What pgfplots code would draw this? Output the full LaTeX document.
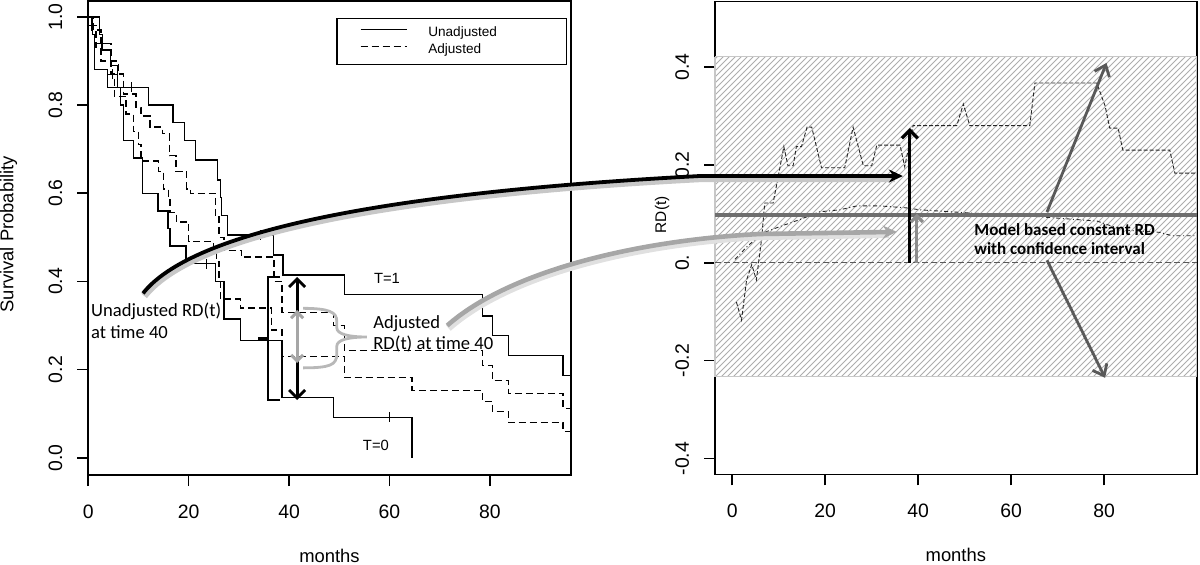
\documentclass[border=0pt]{standalone}
\usepackage{fontspec}
\setmainfont{Liberation Sans}
\newfontfamily\calfont{Carlito}
\usepackage{pgfplots}
\pgfplotsset{compat=1.18}
\usetikzlibrary{patterns,arrows.meta}

\pgfplotsset{rstyle/.style={
  scale only axis, clip=false,
  axis line style={line width=0.8pt},
  tick style={line width=0.8pt, black},
  tick align=outside, major tick length=5.5pt,
  xtick pos=left, ytick pos=left,
  /pgf/number format/assume math mode=true,
  tick label style={font=\fontsize{9.7}{11}\selectfont},
  xticklabel style={anchor=north, inner sep=0pt},
  yticklabel style={rotate=90, anchor=south, inner sep=0pt},
  xticklabel shift=9.3pt, yticklabel shift=7.3pt,
  label style={font=\fontsize{9.2}{11}\selectfont, inner sep=0pt},
}}

\begin{document}
\begin{tikzpicture}
\useasboundingbox (0,0) rectangle (600pt,282pt);

% ---------------- left panel ----------------
\begin{axis}[rstyle,
  at={(44.15pt,44.5pt)}, anchor=south west,
  width=241.2pt, height=237pt,
  xmin=0, xmax=96.1, ymin=-0.039, ymax=1.036,
  xtick={0,20,40,60,80}, xticklabels={0,20,40,60,80},
  ytick={0,0.2,0.4,0.6,0.8,1}, yticklabels={0.0,0.2,0.4,0.6,0.8,1.0},
  xlabel={months}, ylabel={Survival Probability},
  xlabel style={at={(axis description cs:0.5,-0.171)}, anchor=center},
  ylabel style={at={(axis description cs:-0.165,0.508)}, anchor=center},
  legend style={at={(axis description cs:0.992,0.964)}, anchor=north east,
    draw=black, line width=0.6pt, inner xsep=11.5pt, inner ysep=4pt,
    font=\fontsize{6.8}{8}\selectfont, row sep=2pt,
    nodes={inner sep=0pt, text height=5pt, text depth=1.5pt}},
  legend cell align=left,
  legend image code/.code={\draw[#1, line width=0.6pt] (0pt,1.8pt) -- (23pt,1.8pt);},
]
% Unadjusted T=1
\addplot[const plot, black, line width=0.7pt] coordinates {
 (0,1.0) (2.2,0.96) (2.8,0.925) (4.4,0.89) (5.8,0.84) (12.0,0.80) (16.9,0.76)
 (19.2,0.72) (21.3,0.675) (25.7,0.63) (26.3,0.59) (26.5,0.55) (27.7,0.505)
 (36.9,0.46) (38.8,0.415) (51.0,0.37) (78.5,0.322) (80.5,0.277) (83.7,0.232)
 (94.6,0.187) (96.1,0.187)};
\addlegendentry{\hspace*{10.5pt}\makebox[57.5pt][l]{Unadjusted}}
% Adjusted T=1
\addplot[const plot, black, line width=0.7pt, dash pattern=on 3.5pt off 2pt] coordinates {
 (0,1.0) (1.0,0.97) (2.5,0.94) (4.5,0.90) (6.0,0.87) (7.0,0.825) (9.5,0.795)
 (10.5,0.775) (12.3,0.75) (14.8,0.735) (16.2,0.685) (17.5,0.65) (19.6,0.61)
 (20.3,0.60) (25.3,0.55) (26.0,0.50) (27.0,0.47) (30.5,0.455) (37.0,0.40)
 (38.6,0.33) (48.8,0.30) (51.0,0.243) (78.5,0.21) (80.5,0.175) (83.7,0.146)
 (94.6,0.112) (96.1,0.112)};
\addlegendentry{\hspace*{10.5pt}\makebox[57.5pt][l]{Adjusted}}
% Unadjusted T=0
\addplot[const plot, black, line width=0.7pt, forget plot] coordinates {
 (0,1.0) (0.8,0.96) (1.2,0.88) (3.8,0.84) (6.4,0.80) (7.0,0.72) (9.0,0.68)
 (10.8,0.60) (13.9,0.56) (15.9,0.52) (16.3,0.48) (19.5,0.44) (25.3,0.40)
 (27.0,0.315) (30.3,0.266) (38.6,0.137) (48.8,0.092) (64.5,0.092) (64.5,0.0)};
% Adjusted T=0
\addplot[const plot, black, line width=0.7pt, dash pattern=on 3.5pt off 2pt, forget plot] coordinates {
 (0,1.0) (0.6,0.97) (1.5,0.93) (2.5,0.90) (4.5,0.87) (5.2,0.82) (7.5,0.78)
 (9.0,0.74) (10.0,0.71) (10.5,0.673) (14.0,0.65) (15.0,0.61) (16.0,0.59)
 (16.3,0.557) (17.6,0.535) (20.0,0.49) (25.0,0.47) (25.5,0.445) (26.0,0.40)
 (26.3,0.36) (30.3,0.34) (36.5,0.29) (38.6,0.23) (51.0,0.182) (64.5,0.153)
 (78.5,0.128) (80.5,0.105) (83.7,0.08) (94.6,0.06) (96.1,0.06)};
% censoring marks
\addplot[only marks, mark=+, mark size=2.5pt, black, line width=0.5pt, forget plot] coordinates {
 (0.7,0.98) (2.7,0.94) (4.8,0.87) (8.7,0.84) (23.5,0.44) (34.3,0.505) (60,0.092)};

% annotations
\node[font=\fontsize{7.4}{9}\selectfont] at (axis cs:59.5,0.407) {T=1};
\node[font=\fontsize{7.4}{9}\selectfont] at (axis cs:57.3,0.029) {T=0};
\node[font=\calfont\fontsize{9.3}{11}\selectfont, anchor=base west, inner sep=0pt] at (axis cs:0.5,0.321) {Unadjusted RD(t)};
\node[font=\calfont\fontsize{9.3}{11}\selectfont, anchor=base west, inner sep=0pt] at (axis cs:0.5,0.271) {at time 40};
\node[font=\calfont\fontsize{9.3}{11}\selectfont, anchor=base west, inner sep=0pt] at (axis cs:56.7,0.294) {Adjusted};
\node[font=\calfont\fontsize{9.3}{11}\selectfont, anchor=base west, inner sep=0pt] at (axis cs:56.7,0.246) {RD(t) at time 40};
% bracket
\draw[black, line width=1.4pt] (axis cs:38.2,0.41) -- (axis cs:35.8,0.41) -- (axis cs:35.8,0.131) -- (axis cs:38.2,0.131);
\draw[black, line width=1.4pt] (axis cs:35.8,0.271) -- (axis cs:33.8,0.271);
% black double arrow
\draw[black, line width=1.4pt, {Straight Barb[length=4pt,width=8pt]}-{Straight Barb[length=4pt,width=8pt]}] (axis cs:41.6,0.131) -- (axis cs:41.6,0.41);
% gray double arrow
\draw[black!35, line width=1.5pt, {Straight Barb[length=3pt,width=6pt]}-{Straight Barb[length=3pt,width=6pt]}] (axis cs:41.6,0.215) -- (axis cs:41.6,0.335);
% gray brace
\draw[black!28, line width=1.4pt] (axis cs:42.8,0.339) .. controls (axis cs:48,0.339) and (axis cs:49.5,0.33) .. (axis cs:49.5,0.31) -- (axis cs:49.5,0.295) .. controls (axis cs:49.5,0.28) and (axis cs:52,0.274) .. (axis cs:55.5,0.274) .. controls (axis cs:52,0.274) and (axis cs:49.5,0.268) .. (axis cs:49.5,0.253) -- (axis cs:49.5,0.235) .. controls (axis cs:49.5,0.21) and (axis cs:48,0.204) .. (axis cs:42.8,0.204);
\coordinate (bk0) at (axis cs:10.9,0.373);
\coordinate (gy0) at (axis cs:71.5,0.30);
\end{axis}

% ---------------- right panel ----------------
\begin{axis}[rstyle,
  at={(357.5pt,44.85pt)}, anchor=south west,
  width=240.85pt, height=236.3pt,
  xmin=-3.7, xmax=99.9, ymin=-0.432, ymax=0.533,
  xtick={0,20,40,60,80}, xticklabels={0,20,40,60,80},
  ytick={-0.4,-0.2,0,0.2,0.4}, yticklabels={-0.4,-0.2,0.,0.2,0.4},
  xlabel={months}, ylabel={RD(t)},
  xlabel style={at={(axis description cs:0.5,-0.1715)}, anchor=center},
  ylabel style={at={(axis description cs:-0.110,0.549)}, anchor=center, font=\fontsize{7.7}{9}\selectfont},
]
% confidence band
\addplot[draw=black!22, line width=0.6pt, pattern=north east lines, pattern color=black!32] coordinates {
 (-3.7,0.421) (99.9,0.421) (99.9,-0.233) (-3.7,-0.233) (-3.7,0.421)};
% zero line
\addplot[black!65, line width=0.5pt, dash pattern=on 3pt off 1.5pt] coordinates {(-3.7,0) (99.9,0)};
% unadjusted RD(t)
\addplot[black!85, line width=0.45pt, dash pattern=on 2pt off 1pt] coordinates {
 (0.9,-0.08) (2.0,-0.117) (3.1,-0.035) (4.2,-0.004) (5.2,-0.035) (6.3,0.047)
 (7.0,0.122) (8.8,0.122) (10.3,0.196) (11.1,0.237) (12.0,0.198) (13.1,0.198)
 (13.8,0.237) (14.9,0.237) (16.1,0.277) (17.1,0.277) (19.2,0.194) (24.2,0.194)
 (26.0,0.277) (28.2,0.198) (30.0,0.198) (31.1,0.24) (36.1,0.24) (37.1,0.196)
 (38.9,0.28) (48.3,0.28) (49.7,0.324) (51.1,0.28) (64.0,0.28) (65.1,0.367)
 (78.4,0.367) (80.2,0.32) (81.2,0.275) (83.0,0.275) (84.0,0.23) (94.1,0.23)
 (95.2,0.183) (99.9,0.183)};
% adjusted RD(t)
\addplot[black!85, line width=0.45pt, dash pattern=on 2pt off 1.3pt on 0.5pt off 1.3pt] coordinates {
 (0.6,0.007) (3.1,0.032) (6.4,0.06) (10.3,0.074) (14.5,0.088) (18.8,0.104)
 (23.1,0.108) (26.8,0.116) (31.8,0.116) (37.5,0.112) (40.4,0.108) (50.4,0.102)
 (64.5,0.095) (78.5,0.085) (84.0,0.067) (92.0,0.062) (94.6,0.055) (99.9,0.055)};
% model based constant RD
\addplot[black!57, line width=2.3pt] coordinates {(-3.7,0.0975) (99.9,0.0975)};

% arrows
\draw[black, line width=1.6pt, -{Straight Barb[length=4pt,width=8pt]}] (axis cs:38.2,0) -- (axis cs:38.2,0.275);
\draw[black!45, line width=1.6pt, -{Straight Barb[length=3pt,width=6pt]}] (axis cs:39.7,0) -- (axis cs:39.7,0.1);
\draw[black!65, line width=1.4pt, -{Straight Barb[length=5pt,width=8pt]}] (axis cs:67.7,0.1035) -- (axis cs:80.5,0.408);
\draw[black!65, line width=1.4pt, -{Straight Barb[length=5pt,width=8pt]}] (axis cs:67.7,0.005) -- (axis cs:80.2,-0.235);
\node[font=\calfont\bfseries\fontsize{8.5}{10}\selectfont, anchor=base west, inner sep=0pt] at (axis cs:52,0.056) {Model based constant RD};
\node[font=\calfont\bfseries\fontsize{8.5}{10}\selectfont, anchor=base west, inner sep=0pt] at (axis cs:52,0.016) {with confidence interval};
\coordinate (bk1) at (axis cs:36.7,0.177);
\coordinate (gy1) at (axis cs:35.4,0.063);
\end{axis}

% ---------------- cross-panel curved arrows ----------------
\draw[black!22, line width=3.5pt] ([shift={(0.6pt,-1.3pt)}]bk0) .. controls (93.1pt,160.7pt) and (170.6pt,183.2pt) .. (350.6pt,192.7pt) -- ([shift={(-4pt,-1.3pt)}]bk1);
\draw[black, line width=1.9pt, -{Stealth[length=7pt,width=6.5pt]}] (bk0) .. controls (92.5pt,162pt) and (170pt,184.5pt) .. (350pt,194pt) -- (bk1);
\draw[black!12, line width=3.5pt] ([shift={(0.6pt,-1.3pt)}]gy0) .. controls (255.6pt,145.7pt) and (320.6pt,160.7pt) .. (380.6pt,163.7pt) -- ([shift={(-4pt,-1.3pt)}]gy1);
\draw[black!35, line width=2.3pt, -{Stealth[length=7pt,width=6.5pt]}] (gy0) .. controls (255pt,147pt) and (320pt,162pt) .. (380pt,165pt) -- (gy1);
\end{tikzpicture}
\end{document}
